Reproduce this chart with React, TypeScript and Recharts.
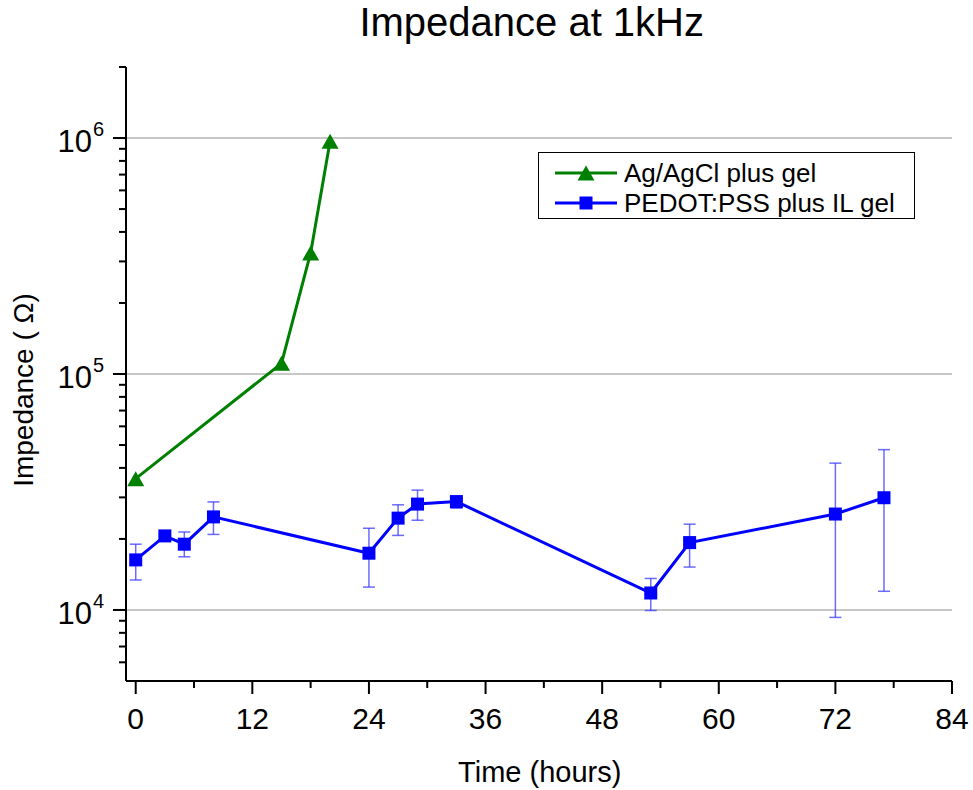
import React from 'react';
import { LineChart, Line, XAxis, YAxis, ErrorBar, ReferenceLine, Legend } from 'recharts';

// ---- data ----
const agTime = [0, 15, 18, 20];
const agImpedance = [36000, 111000, 326000, 970000];

const pedotTime = [0, 3, 5, 8, 24, 27, 29, 33, 53, 57, 72, 77];
const pedotImpedance = [16300, 20600, 19000, 24800, 17400, 24500, 28100, 28800, 11800, 19300, 25500, 29900];
const pedotLow = [13400, 20000, 16800, 20900, 12500, 20700, 24000, 27000, 9950, 15200, 9300, 12000];
const pedotHigh = [19000, 21200, 21400, 28700, 22200, 27900, 32200, 30000, 13600, 23100, 41900, 47800];

const seriesNames = ['Ag/AgCl plus gel', 'PEDOT:PSS plus IL gel'];
const seriesColors = ['#008000', '#0000ff'];

const xTicks = [0, 6, 12, 18, 24, 30, 36, 42, 48, 54, 60, 66, 72, 78, 84];
const xLabelTicks = [0, 12, 24, 36, 48, 60, 72, 84];
const yMajorTicks = [10000, 100000, 1000000];
const yMinorTicks = [
  6000, 7000, 8000, 9000,
  20000, 30000, 40000, 50000, 60000, 70000, 80000, 90000,
  200000, 300000, 400000, 500000, 600000, 700000, 800000, 900000,
  2000000,
];
const yTicks = [...yMinorTicks, ...yMajorTicks].sort((a, b) => a - b);

const agData = agTime.map((t, i) => ({ t, z: agImpedance[i] }));
const pedotData = pedotTime.map((t, i) => ({
  t,
  z: pedotImpedance[i],
  err: [pedotImpedance[i] - pedotLow[i], pedotHigh[i] - pedotImpedance[i]],
}));

const FONT = '"Liberation Sans", Arial, sans-serif';

const XTick = (props: any) => {
  const { x, y, payload } = props;
  const v = payload.value;
  const major = xLabelTicks.includes(v);
  return (
    <g>
      <line x1={x} x2={x} y1={y} y2={y + (major ? 13 : 7)} stroke="#000" strokeWidth={2} />
      {major && (
        <text x={x} y={y + 48} textAnchor="middle" fontSize={30} fontFamily={FONT} fill="#000">
          {v}
        </text>
      )}
    </g>
  );
};

const YTick = (props: any) => {
  const { x, y, payload } = props;
  const v = payload.value;
  const major = yMajorTicks.includes(v);
  const exp = Math.round(Math.log10(v));
  return (
    <g>
      <line x1={x - (major ? 13 : 7)} x2={x} y1={y} y2={y} stroke="#000" strokeWidth={2} />
      {major && (
        <g fontFamily={FONT} fill="#000">
          <text x={x - 34} y={y + 14} textAnchor="end" fontSize={31}>10</text>
          <text x={x - 33} y={y - 2} textAnchor="start" fontSize={20}>{exp}</text>
        </g>
      )}
    </g>
  );
};

const SquareDot = (props: any) => {
  const { cx, cy } = props;
  if (cx == null || cy == null) return null;
  return <rect key={`s-${cx}`} x={cx - 6.5} y={cy - 6.5} width={13} height={13} fill="#0000ff" />;
};

const TriangleDot = (props: any) => {
  const { cx, cy } = props;
  if (cx == null || cy == null) return null;
  return (
    <polygon
      key={`t-${cx}`}
      points={`${cx},${cy - 7.5} ${cx + 8.5},${cy + 7.5} ${cx - 8.5},${cy + 7.5}`}
      fill="#008000"
    />
  );
};

const LegendMarker = ({ kind, color }: { kind: number; color: string }) => (
  <svg width={62} height={30} style={{ display: 'block' }}>
    <line x1={0} x2={62} y1={15} y2={15} stroke={color} strokeWidth={3} />
    {kind === 0 ? (
      <polygon points="31,7.5 39.5,22.5 22.5,22.5" fill={color} />
    ) : (
      <rect x={24.5} y={8.5} width={13} height={13} fill={color} />
    )}
  </svg>
);

const renderLegend = () => (
  <div
    style={{
      border: '1.5px solid #000',
      boxSizing: 'border-box',
      width: 377,
      height: 67,
      paddingTop: 5,
      background: '#fff',
      fontFamily: FONT,
      fontSize: 26,
      lineHeight: '30px',
      color: '#000',
    }}
  >
    {seriesNames.map((name, i) => (
      <div key={name} style={{ display: 'flex', alignItems: 'center', height: 30 }}>
        <div style={{ marginLeft: 16, width: 62 }}>
          <LegendMarker kind={i} color={seriesColors[i]} />
        </div>
        <span style={{ marginLeft: 7, whiteSpace: 'nowrap' }}>{name}</span>
      </div>
    ))}
  </div>
);

export default function App() {
  return (
    <div style={{ fontFamily: FONT, width: 973, height: 790 }}>
      <style>{`html, body { margin: 0; padding: 0; overflow: hidden; } .recharts-surface { overflow: visible; }`}</style>
      <LineChart
        width={973}
        height={790}
        margin={{ top: 67, right: 21, bottom: 0, left: 0 }}
      >
        <XAxis
          dataKey="t"
          type="number"
          domain={[-1, 84]}
          allowDataOverflow
          ticks={xTicks}
          interval={0}
          tickLine={false}
          tickSize={0}
          tickMargin={0}
          tick={<XTick />}
          axisLine={{ stroke: '#000', strokeWidth: 2 }}
          height={109}
        />
        <YAxis
          dataKey="z"
          scale="log"
          domain={[5000, 2000000]}
          allowDataOverflow
          ticks={yTicks}
          interval={0}
          tickLine={false}
          tickSize={0}
          tickMargin={0}
          tick={<YTick />}
          axisLine={{ stroke: '#000', strokeWidth: 2 }}
          width={126}
        />
        {yMajorTicks.map((v) => (
          <ReferenceLine key={v} y={v} stroke="#b4b4b4" strokeWidth={1.5} ifOverflow="hidden" />
        ))}
        <Legend
          layout="vertical"
          align="center"
          verticalAlign="middle"
          content={renderLegend}
          wrapperStyle={{ left: 538, top: 152, width: 377, height: 67 }}
        />
        <Line
          data={agData}
          dataKey="z"
          name={seriesNames[0]}
          stroke={seriesColors[0]}
          strokeWidth={3}
          dot={<TriangleDot />}
          activeDot={false}
          isAnimationActive={false}
        />
        <Line
          data={pedotData}
          dataKey="z"
          name={seriesNames[1]}
          stroke={seriesColors[1]}
          strokeWidth={3}
          dot={<SquareDot />}
          activeDot={false}
          isAnimationActive={false}
        >
          <ErrorBar
            dataKey="err"
            direction="y"
            width={6}
            stroke="#3a3aff"
            strokeOpacity={0.75}
            strokeWidth={1.5}
            isAnimationActive={false}
          />
        </Line>
        <text x={531.7} y={36} textAnchor="middle" fontSize={40} fontFamily={FONT} fill="#000">
          Impedance at 1kHz
        </text>
        <text
          transform="translate(33,390) rotate(-90)"
          textAnchor="middle"
          fontSize={28}
          fontFamily={FONT}
          fill="#000"
        >
          Impedance ( Ω)
        </text>
        <text x={539.7} y={781.7} textAnchor="middle" fontSize={29} fontFamily={FONT} fill="#000">
          Time (hours)
        </text>
      </LineChart>
    </div>
  );
}
